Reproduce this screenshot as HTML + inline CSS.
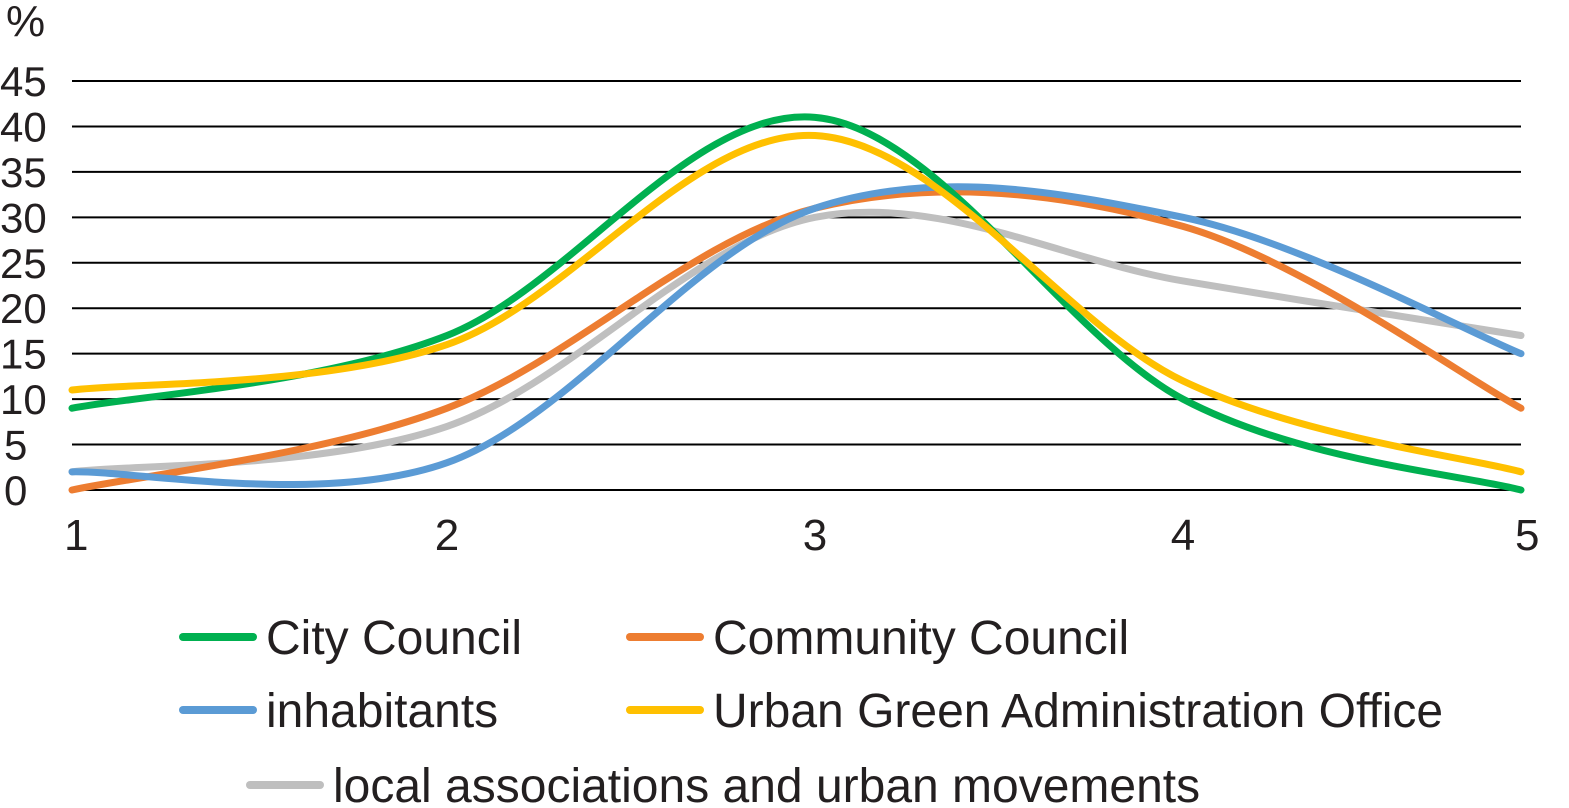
<!DOCTYPE html>
<html><head><meta charset="utf-8"><style>
body{margin:0;background:#fff;}
svg{display:block;font-family:"Liberation Sans",Arial,sans-serif;}
</style></head><body>
<svg id="chart" width="1569" height="808" viewBox="0 0 1569 808" xmlns="http://www.w3.org/2000/svg">
<g id="grid"></g><g id="yticks"></g><g id="xticks"></g><g id="lines"></g><g id="legend"></g>
<text x="6" y="36" font-size="44" fill="#231f20">%</text>
</svg>
<script>
const categories=[1,2,3,4,5];
const yTickLabels=[0,5,10,15,20,25,30,35,40,45];
const seriesNames=["City Council","Community Council","inhabitants","Urban Green Administration Office","local associations and urban movements"];
const seriesColors=["#00b050","#ed7d31","#5b9bd5","#ffc000","#bfbfbf"];
const cityCouncil=[9,17,41,10,0];
const communityCouncil=[0,9,31,29,9];
const inhabitants=[2,3,31,30,15];
const urbanGreen=[11,16,39,12,2];
const localAssoc=[2,7,30,23,17];
const seriesValues=[cityCouncil,communityCouncil,inhabitants,urbanGreen,localAssoc];
const NS="http://www.w3.org/2000/svg";
const x0=72,x1=1521,y0=490,y1=81;
function xs(v){
 if(v<=2) return x0+(v-1)*(447-x0);
 if(v<=4) return 447+(v-2)*368;
 return 1183+(v-4)*(x1-1183);
}
function ys(v){return y0-v/45*(y0-y1);}
function mk(t,parent){const e=document.createElementNS(NS,t);parent.appendChild(e);return e;}
const g=document.getElementById('grid'),yt=document.getElementById('yticks'),xt=document.getElementById('xticks'),lg=document.getElementById('lines'),leg=document.getElementById('legend');
yTickLabels.forEach(v=>{
 const l=mk('line',g);l.setAttribute('x1',x0);l.setAttribute('x2',x1);l.setAttribute('y1',ys(v));l.setAttribute('y2',ys(v));l.setAttribute('stroke','#000');l.setAttribute('stroke-width','2');
 
 
 const t=mk('text',yt);t.setAttribute('x',v<10?4:0);t.setAttribute('y',ys(v)+15);t.setAttribute('font-size','42');t.setAttribute('fill','#231f20');t.textContent=v;
 
 
});
categories.forEach((c,i)=>{
 const t=mk('text',xt);
 let x=xs(c);
 t.setAttribute('x',x);t.setAttribute('y',550);t.setAttribute('font-size','44');t.setAttribute('fill','#231f20');
 t.setAttribute('text-anchor',i==0?'start':(i==4?'start':'middle'));
 if(i==0)t.setAttribute('x',x-8);
 if(i==4)t.setAttribute('x',x-6);
 t.textContent=c;
 
 
});
function path(vals){
 const p=vals.map((v,i)=>[xs(categories[i]),ys(v)]);
 let d='M'+p[0][0]+','+p[0][1];
 for(let i=0;i<p.length-1;i++){
  const a=p[Math.max(i-1,0)],b=p[i],c=p[i+1],e=p[Math.min(i+2,p.length-1)];
  const c1=[b[0]+(c[0]-a[0])/6,b[1]+(c[1]-a[1])/6],c2=[c[0]-(e[0]-b[0])/6,c[1]-(e[1]-b[1])/6];
  d+=' C'+c1+' '+c2+' '+c;
 }
 return d;
}
const order=[4,1,2,0,3];
order.forEach(i=>{
 const pa=mk('path',lg);pa.setAttribute('d',path(seriesValues[i]));pa.setAttribute('fill','none');pa.setAttribute('stroke',seriesColors[i]);pa.setAttribute('stroke-width','7');pa.setAttribute('stroke-linecap','round');
 
 
});
const legPos=[[183,637],[630,637],[183,710],[630,710],[250,785]];
seriesNames.forEach((n,i)=>{
 const [x,y]=legPos[i];
 const l=mk('line',leg);l.setAttribute('x1',x);l.setAttribute('x2',x+70);l.setAttribute('y1',y);l.setAttribute('y2',y);l.setAttribute('stroke',seriesColors[i]);l.setAttribute('stroke-width','8');l.setAttribute('stroke-linecap','round');
 
 
 const t=mk('text',leg);t.setAttribute('x',x+83);t.setAttribute('y',y+17);t.setAttribute('font-size','48');t.setAttribute('fill','#231f20');t.textContent=n;
 
 
});
</script>
</body></html>
